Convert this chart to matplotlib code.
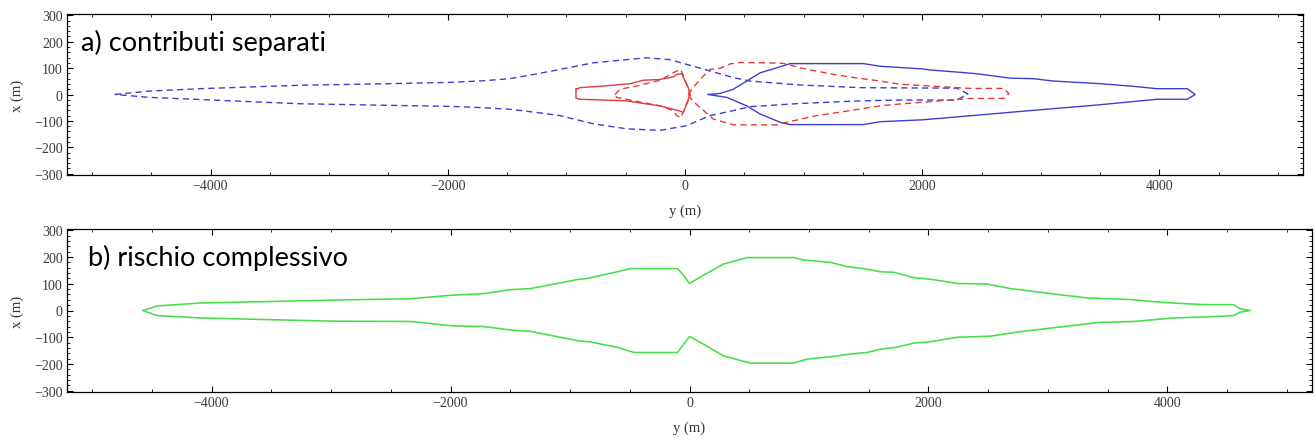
import numpy as np
import matplotlib
matplotlib.use("Agg")
import matplotlib.pyplot as plt
from matplotlib.ticker import MultipleLocator

# contours: along = horizontal axis "y (m)", across = vertical axis "x (m)"
# a) blue dashed contour (left side)
bd_up_along = [-4807, -4512, -4090, -3247, -2500, -1982, -1700, -1476, -1250, -1054, -773, -492,
               -323, -127, 70, 267, 408, 548, 970, 1476, 1813, 2291, 2385]
bd_up_across = [0, 13, 22, 35, 41, 46, 52, 60, 78, 95, 120, 132, 139, 132, 107, 82, 64, 51, 36,
                26, 25, 24, 2]
bd_lo_along = [-4807, -4512, -4090, -3247, -2500, -1982, -1700, -1476, -1250, -1054, -773, -492,
               -211, 14, 211, 408, 548, 970, 1476, 1813, 2291, 2385]
bd_lo_across = [0, -11, -19, -35, -41, -45, -50, -56, -68, -80, -111, -130, -136, -118, -80, -61,
                -46, -34, -24, -21, -21, 2]

# a) blue solid contour (right side)
bs_up_along = [197, 295, 408, 520, 633, 773, 886, 1504, 1645, 2000, 2066, 2404, 2488, 2741, 2935,
               3104, 3500, 3778, 3980, 4234, 4301]
bs_up_across = [0, 4, 20, 51, 82, 101, 117, 117, 107, 97, 93, 81, 77, 62, 60, 51, 41, 31, 22, 22, 0]
bs_lo_along = [197, 352, 520, 633, 801, 886, 1504, 1645, 2000, 2471, 2935, 3470, 3980, 4234, 4301]
bs_lo_across = [0, -11, -43, -74, -105, -114, -114, -103, -96, -78, -60, -40, -18, -18, 0]

# a) red solid contour (small, left of 0)
rs_up_along = [-919, -885, -689, -464, -352, -211, -99, -70, -28, 28, 42]
rs_up_across = [20, 26, 32, 41, 54, 57, 67, 76, 79, 26, 0]
rs_lo_along = [-919, -885, -692, -492, -352, -211, -56, -14, 28, 42]
rs_lo_across = [-14, -18, -21, -24, -34, -43, -61, -68, -18, 0]

# a) red dashed contours (inner left loop + right loop)
rdl_up_along = [-590, -548, -408, -211, -70, -35, 30, 45]
rdl_up_across = [0, 20, 32, 54, 89, 94, 20, 0]
rdl_lo_along = [-590, -577, -408, -211, -99, -70, -35, 30, 45]
rdl_lo_across = [0, -11, -26, -43, -61, -80, -88, -20, 0]

rdr_up_along = [25, 70, 127, 211, 295, 380, 464, 689, 827, 900, 970, 1251, 1476, 1645, 1813,
                2404, 2690, 2730]
rdr_up_across = [0, 27, 57, 95, 99, 116, 121, 120, 118, 110, 101, 76, 61, 51, 39, 23, 23, 3]
rdr_lo_along = [25, 70, 127, 239, 408, 773, 858, 1111, 1392, 1645, 1813, 2404, 2690, 2730]
rdr_lo_across = [0, -27, -49, -93, -115, -115, -105, -80, -61, -43, -36, -15, -15, 3]

# b) green overall contour
g_up_along = [-4571, -4520, -4454, -4092, -2977, -2334, -2000, -1724, -1498, -1331, -937, -854,
              -603, -494, -100, -50, 0, 117, 285, 485, 870, 954, 1180, 1322, 1456, 1598, 1709,
              1877, 2017, 2243, 2494, 2686, 3079, 3330, 3690, 3967, 4301, 4552, 4610, 4694]
g_up_across = [0, 8, 17, 28, 39, 44, 57, 63, 78, 82, 116, 120, 145, 157, 157, 132, 101, 132, 174,
               198, 198, 189, 180, 164, 157, 145, 143, 123, 117, 101, 99, 82, 60, 47, 41, 30, 22,
               22, 6, 0]
g_lo_along = [-4571, -4520, -4454, -4092, -2977, -2334, -2000, -1724, -1498, -1331, -937, -826,
              -603, -466, -100, 0, 117, 285, 510, 870, 982, 1206, 1346, 1486, 1598, 1737, 1877,
              2017, 2243, 2522, 2773, 3079, 3414, 3718, 4050, 4329, 4552, 4610, 4694]
g_lo_across = [0, -9, -19, -28, -40, -41, -57, -60, -73, -78, -113, -118, -138, -157, -157, -97,
               -126, -170, -197, -197, -182, -172, -163, -157, -145, -137, -122, -117, -100, -96,
               -79, -63, -45, -41, -28, -24, -19, -6, 0]

BLUE = "#3d3dd6"
RED = "#e23a3a"
GREEN = "#45e045"
LW = 1.0
DASH = (4.5, 3.0)


def closed(up_a, up_c, lo_a, lo_c):
    a = list(up_a) + list(lo_a[::-1])
    c = list(up_c) + list(lo_c[::-1])
    return a, c


def style_axes(ax):
    ax.set_xlim(-5210, 5210)
    ax.set_ylim(-305, 305)
    ax.xaxis.set_major_locator(MultipleLocator(2000))
    ax.xaxis.set_minor_locator(MultipleLocator(500))
    ax.yaxis.set_major_locator(MultipleLocator(100))
    ax.yaxis.set_minor_locator(MultipleLocator(20))
    ax.tick_params(which="both", direction="in", top=True, right=True, color="black",
                   labelsize=10, labelcolor="#3a3a3a", pad=3)
    ax.tick_params(which="major", length=4, width=0.8)
    ax.tick_params(which="minor", length=2.2, width=0.6)
    for lab in ax.get_xticklabels() + ax.get_yticklabels():
        lab.set_family("Liberation Serif")
    for s in ax.spines.values():
        s.set_linewidth(0.9)
        s.set_color("black")
    ax.set_xlabel("y (m)", family="Liberation Serif", fontsize=10.5, color="#333333", labelpad=8)
    ax.set_ylabel("x (m)", family="Liberation Serif", fontsize=10.5, color="#333333", labelpad=7)


fig = plt.figure(figsize=(13.16, 4.39), dpi=100)
ax1 = fig.add_axes([67 / 1316, 1 - 176 / 439, 1236 / 1316, 161 / 439])
ax2 = fig.add_axes([67 / 1316, 1 - 393 / 439, 1245 / 1316, 163 / 439])

a, c = closed(bd_up_along, bd_up_across, bd_lo_along, bd_lo_across)
ax1.plot(a, c, color=BLUE, lw=LW, dashes=DASH)
a, c = closed(bs_up_along, bs_up_across, bs_lo_along, bs_lo_across)
ax1.plot(a, c, color=BLUE, lw=LW)
a, c = closed(rs_up_along, rs_up_across, rs_lo_along, rs_lo_across)
a.append(a[0]); c.append(c[0])
ax1.plot(a, c, color=RED, lw=LW)
a, c = closed(rdl_up_along, rdl_up_across, rdl_lo_along, rdl_lo_across)
ax1.plot(a, c, color=RED, lw=LW, dashes=DASH)
a, c = closed(rdr_up_along, rdr_up_across, rdr_lo_along, rdr_lo_across)
ax1.plot(a, c, color=RED, lw=LW, dashes=DASH)

a, c = closed(g_up_along, g_up_across, g_lo_along, g_lo_across)
ax2.plot(a, c, color=GREEN, lw=1.15)

style_axes(ax1)
style_axes(ax2)

ax1.text(0.0115, 0.826, "a) contributi separati", transform=ax1.transAxes, family="Lato",
         fontsize=19.5, va="center", ha="left", color="black")
ax2.text(0.017, 0.828, "b) rischio complessivo", transform=ax2.transAxes, family="Lato",
         fontsize=19.5, va="center", ha="left", color="black")

fig.savefig("out.png", dpi=100)
